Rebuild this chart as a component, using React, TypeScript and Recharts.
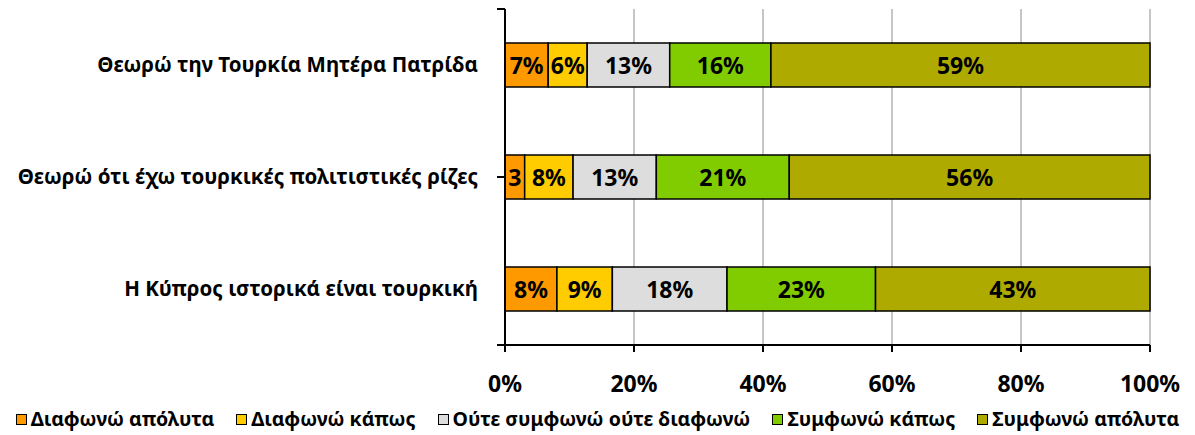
import { Bar, BarChart, CartesianGrid, Legend, ReferenceLine, XAxis, YAxis } from 'recharts';

const categories = [
  'Θεωρώ την Τουρκία Μητέρα Πατρίδα',
  'Θεωρώ ότι έχω τουρκικές πολιτιστικές ρίζες',
  'Η Κύπρος ιστορικά είναι τουρκική',
];

const seriesNames = [
  'Διαφωνώ απόλυτα',
  'Διαφωνώ κάπως',
  'Ούτε συμφωνώ ούτε διαφωνώ',
  'Συμφωνώ κάπως',
  'Συμφωνώ απόλυτα',
];

const disagreeFully = [6.7, 3.05, 8.06];
const disagreeSomewhat = [6.05, 7.5, 8.6];
const neutral = [12.8, 12.9, 17.8];
const agreeSomewhat = [15.7, 20.6, 23.05];
const agreeFully = [58.8, 55.9, 42.6];

const xTicks = [0, 0.2, 0.4, 0.6, 0.8, 1];

const COLORS = ['#ff9900', '#ffcc00', '#dddddd', '#80cc00', '#afaa00'];
const FONT = '"Noto Sans", sans-serif';
const W = 1195;
const H = 435;

const seriesValues = [disagreeFully, disagreeSomewhat, neutral, agreeSomewhat, agreeFully];
const keys = ['d1', 'd2', 'n', 'a1', 'a2'];

const rows = categories.map((name, i) => {
  const row: Record<string, string | number> = { name };
  keys.forEach((k, s) => {
    row[k] = seriesValues[s][i];
  });
  return row;
});

// small segments only get the number, like the source
function makeLabel(values: number[]) {
  return (props: any) => {
    const vb = props.viewBox ?? props;
    const { x, y, width, height } = vb;
    const v = values[props.index];
    if (v == null || x == null) return null;
    const r = Math.round(v);
    const text = v < 5 ? `${r}` : `${r}%`;
    return (
      <text
        x={x + width / 2}
        y={y + height / 2}
        textAnchor="middle"
        dominantBaseline="central"
        fontSize={23}
        fontWeight={700}
        fill="#000"
        fontFamily={FONT}
      >
        {text}
      </text>
    );
  };
}

function LegendContent() {
  return (
    <div
      style={{
        display: 'flex',
        justifyContent: 'center',
        gap: 22,
        fontFamily: FONT,
        fontWeight: 700,
        fontSize: 19.5,
        lineHeight: '24px',
        color: '#000',
        whiteSpace: 'nowrap',
      }}
    >
      {seriesNames.map((n, i) => (
        <span key={n} style={{ display: 'flex', alignItems: 'center' }}>
          <span
            style={{
              width: 9,
              height: 9,
              background: COLORS[i],
              border: '1.5px solid #000',
              marginRight: 4,
              display: 'inline-block',
            }}
          />
          {n}
        </span>
      ))}
    </div>
  );
}

export default function App() {
  return (
    <div style={{ position: 'absolute', left: 0, top: 0 }}>
      <BarChart
        width={W}
        height={H}
        data={rows}
        layout="vertical"
        stackOffset="expand"
        barSize={44}
        margin={{ top: 9, right: 45, bottom: 5, left: 0 }}
        style={{ fontFamily: FONT }}
      >
        <CartesianGrid yAxisId="cat" horizontal={false} stroke="#8c8c8c" strokeWidth={1} />
        <XAxis
          type="number"
          domain={[0, 1]}
          ticks={xTicks}
          tickFormatter={(v: number) => `${Math.round(v * 100)}%`}
          axisLine={{ stroke: '#000', strokeWidth: 2 }}
          tickLine={{ stroke: '#000', strokeWidth: 2 }}
          tickSize={7}
          tickMargin={24}
          height={55}
          tick={{ fontSize: 23, fontWeight: 700, fill: '#000' }}
          interval={0}
        />
        <YAxis
          yAxisId="bounds"
          type="number"
          domain={[0, 3]}
          ticks={[0, 1, 2, 3]}
          width={8}
          tickSize={8}
          tickFormatter={() => ''}
          axisLine={{ stroke: '#000', strokeWidth: 2 }}
          tickLine={{ stroke: '#000', strokeWidth: 2 }}
        />
        <YAxis
          yAxisId="cat"
          type="category"
          dataKey="name"
          width={497}
          axisLine={false}
          tickLine={false}
          tickSize={0}
          tickMargin={19}
          tick={{ fontSize: 20.5, fontWeight: 700, fill: '#000' }}
          interval={0}
        />
        <ReferenceLine yAxisId="bounds" y={3} stroke="#8c8c8c" strokeWidth={1} />
        {keys.map((k, s) => (
          <Bar
            key={k}
            dataKey={k}
            name={seriesNames[s]}
            yAxisId="cat"
            stackId="a"
            fill={COLORS[s]}
            stroke="#000"
            strokeWidth={1.5}
            isAnimationActive={false}
            label={makeLabel(seriesValues[s])}
          />
        ))}
        <Legend
          verticalAlign="bottom"
          height={30}
          content={<LegendContent />}
          wrapperStyle={{ left: 0, width: W, bottom: -2 }}
        />
      </BarChart>
    </div>
  );
}
